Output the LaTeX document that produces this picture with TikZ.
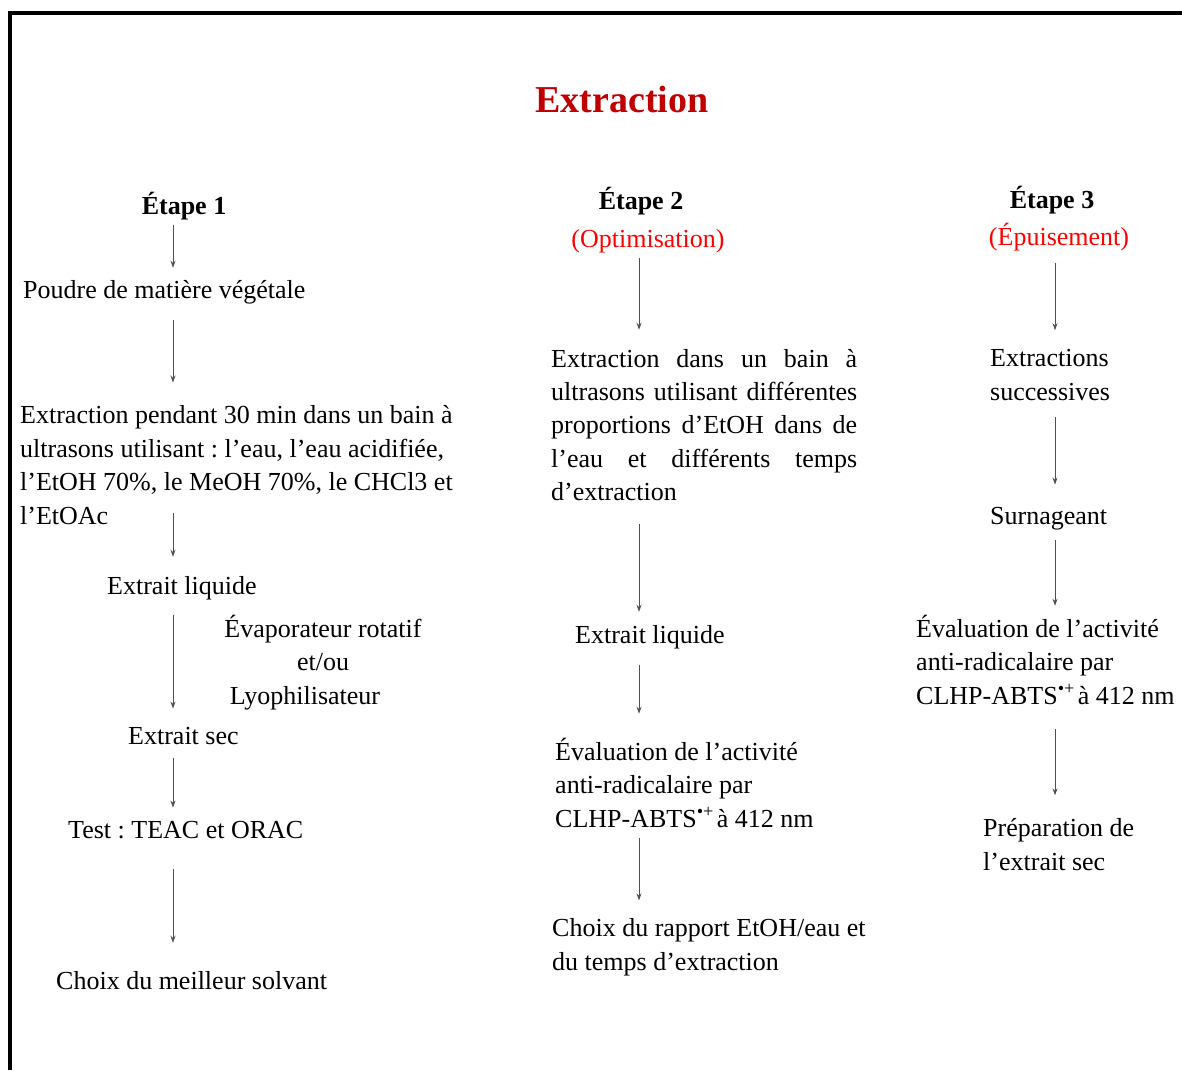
\documentclass[tikz,border=0pt]{standalone}
\usepackage{fontspec}
\setmainfont{Liberation Serif}
\usetikzlibrary{arrows.meta}
\definecolor{titlered}{RGB}{192,0,0}
\definecolor{steplabel}{RGB}{255,0,0}
\definecolor{arrowgray}{RGB}{80,80,80}
\frenchspacing

\begin{document}
\begin{tikzpicture}[x=1pt, y=-1pt, >={Stealth[length=7pt,width=5pt]}, every node/.style={inner sep=0pt, font=\fontsize{26}{33.4}\selectfont}]
  % text and arrow styles
  \tikzset{txt/.style={anchor=base west, align=left},
           head/.style={anchor=base, font=\fontsize{26}{33.4}\selectfont\bfseries},
           title/.style={anchor=base, font=\fontsize{38}{44}\selectfont\bfseries, text=titlered},
           sub/.style={anchor=base, text=steplabel},
           flow/.style={->, draw=arrowgray, line width=0.8pt}}

  % frame
  \useasboundingbox (0,0) rectangle (1182,1070);
  \draw[line width=4.5pt] (10,1070) -- (10,13) -- (1182,13);

  % columns of the arrows
  \coordinate (c1) at (173,0);
  \coordinate (c2) at (639,0);
  \coordinate (c3) at (1055,0);

  \node[title] (title) at (622,113) {Extraction};

  % step 1 (multi-line nodes sit on their last line)
  \node[head] (etape1) at (184,214) {Étape 1};
  \node[txt] (poudre) at (23,298) {Poudre de matière végétale};
  \node[txt] (ext1) at (20,524) {Extraction pendant 30 min dans un bain à\\ultrasons utilisant : l’eau, l’eau acidifiée,\\l’EtOH 70\%, le MeOH 70\%, le CHCl3 et\\l’EtOAc};
  \node[txt] (liq1) at (107,594) {Extrait liquide};
  \node[anchor=base, align=center] (evap) at (323,704) {Évaporateur rotatif\\et/ou\\Lyophilisateur\hspace*{36pt}};
  \node[txt] (sec1) at (128,744) {Extrait sec};
  \node[txt] (test1) at (68,838) {Test : TEAC et ORAC};
  \node[txt] (choix1) at (56,989) {Choix du meilleur solvant};

  % step 2
  \node[head] (etape2) at (641,209) {Étape 2};
  \node[sub] (optim) at (648,247) {(Optimisation)};
  \node[txt, text width=306pt, align=justify] (ext2) at (551,367) {\hyphenpenalty=10000 Extraction dans un bain à\linebreak ultrasons utilisant différentes\linebreak proportions d’EtOH dans de\linebreak l’eau et différents temps\linebreak d’extraction};
  \node[txt] (liq2) at (575,643) {Extrait liquide};
  \node[txt] (eval2) at (555,827) {Évaluation de l’activité\\anti-radicalaire par\\CLHP-ABTS\textsuperscript{•+}\hspace{3pt}à 412 nm};
  \node[txt] (choix2) at (552,970) {Choix du rapport EtOH/eau et\\du temps d’extraction};

  % step 3
  \node[head] (etape3) at (1052,208) {Étape 3};
  \node[sub] (epuis) at (1059,245) {(Épuisement)};
  \node[txt] (succ) at (990,400) {Extractions\\successives};
  \node[txt] (surn) at (990,524) {Surnageant};
  \node[txt] (eval3) at (916,704) {Évaluation de l’activité\\anti-radicalaire par\\CLHP-ABTS\textsuperscript{•+}\hspace{3pt}à 412 nm};
  \node[txt] (prep) at (983,870) {Préparation de\\l’extrait sec};

  % arrows
  \draw[flow, shorten <=5pt, shorten >=12pt] (etape1.south -| c1) -- (poudre.north -| c1);
  \draw[flow, shorten <=16pt, shorten >=23pt] (poudre.south -| c1) -- (ext1.north -| c1);
  \draw[flow, shorten <=-11pt, shorten >=19pt] (ext1.south -| c1) -- (liq1.north -| c1);
  \draw[flow, shorten <=15pt, shorten >=18pt] (liq1.south -| c1) -- (sec1.north -| c1);
  \draw[flow, shorten <=14pt, shorten >=13pt] (sec1.south -| c1) -- (test1.north -| c1);
  \draw[flow, shorten <=30pt, shorten >=28pt] (test1.south -| c1) -- (choix1.north -| c1);

  \draw[flow, shorten <=5pt, shorten >=19pt] (optim.south -| c2) -- (ext2.north -| c2);
  \draw[flow, shorten <=23pt, shorten >=13pt] (ext2.south -| c2) -- (liq2.north -| c2);
  \draw[flow, shorten <=16pt, shorten >=24pt] (liq2.south -| c2) -- (eval2.north -| c2);
  \draw[flow, shorten <=11pt, shorten >=18pt] (eval2.south -| c2) -- (choix2.north -| c2);

  \draw[flow, shorten <=12pt, shorten >=19pt] (epuis.south -| c3) -- (succ.north -| c3);
  \draw[flow, shorten <=17pt, shorten >=22pt] (succ.south -| c3) -- (surn.north -| c3);
  \draw[flow, shorten <=10pt, shorten >=9pt] (surn.south -| c3) -- (eval3.north -| c3);
  \draw[flow, shorten <=25pt, shorten >=23pt] (eval3.south -| c3) -- (prep.north -| c3);
\end{tikzpicture}
\end{document}
